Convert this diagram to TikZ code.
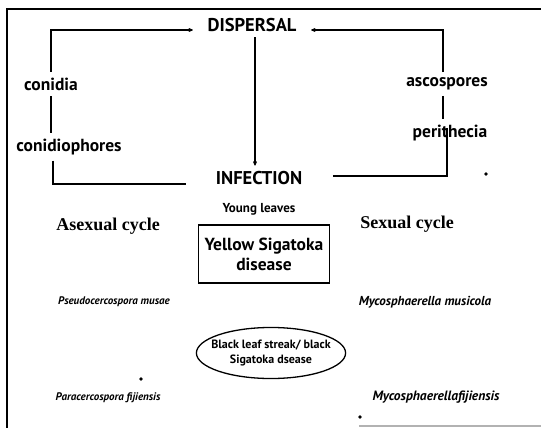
\documentclass[tikz,border=0pt]{standalone}
\usepackage{fontspec}
\setmainfont{PT Sans}
\newfontfamily\headserif{Liberation Serif}
\usepackage{tikz}
\usetikzlibrary{positioning, arrows.meta, shapes.geometric}

\begin{document}
\begin{tikzpicture}[
    x=1pt, y=-1pt, line width=1.5pt, >={Stealth[round, length=6pt, width=5pt]},
    node distance=31pt, on grid,
    stage/.style={font=\bfseries\fontsize{17.5}{20}\selectfont, inner xsep=2pt, inner ysep=5pt},
    cyclename/.style={font=\headserif\bfseries\fontsize{18}{20}\selectfont},
    species/.style={font=\bfseries\itshape\fontsize{11}{13}\selectfont},
    disease/.style={draw, align=center, line width=1.3pt, font=\bfseries\fontsize{17.5}{20}\selectfont},
    speck/.style={circle, fill, inner sep=1.3pt}
]
    \useasboundingbox (0,0) rectangle (541,428);
    \draw[line width=2.5pt] (7,428) -- (7,9) -- (541,9);
    \draw[gray!60, line width=1.5pt] (359,426) -- (541,426);

    \node[stage, font=\bfseries\fontsize{18.5}{20}\selectfont] (dispersal) at (252,25) {DISPERSAL};
    \node[stage, font=\bfseries\fontsize{18.5}{20}\selectfont] (infection) at (259,178) {INFECTION};
    \node[font=\bfseries\fontsize{13}{15}\selectfont] (leaves) [below=of infection] {Young leaves};
    \node[stage] (conidia) at (51,84) {conidia};
    \node[stage] (conidiophores) at (69,147) {conidiophores};
    \node[stage] (ascospores) at (447,84) {ascospores};
    \node[stage] (perithecia) at (450,133) {perithecia};

    \node[cyclename] (asexual) at (108,226) {Asexual cycle};
    \node[cyclename] (sexual) at (407,224) {Sexual cycle};
    \node[disease, minimum width=131pt, minimum height=58pt] (yellow) at (264,254) {Yellow Sigatoka\\disease};
    \node[species] (pmusae) at (114,302) {Pseudocercospora musae};
    \node[species, font=\bfseries\itshape\fontsize{13}{15}\selectfont] (mmusicola) at (425,302) {Mycosphaerella musicola};
    \node[disease, ellipse, inner xsep=-7pt, inner ysep=5pt,
          font=\bfseries\fontsize{12}{15}\selectfont] (black) at (271,353) {Black leaf streak/ black\\Sigatoka dsease};
    \node[species] (pfiji) at (108,398) {Paracercospora fijiensis};
    \node[species, font=\bfseries\itshape\fontsize{13.5}{15}\selectfont] (mfiji) at (436,397) {Mycosphaerellafijiensis};
    \node[speck] (specka) at (141,379) {};
    \node[speck] (speckb) at (360,417) {};
    \node[speck] (speckc) at (486,174) {};

    % asexual side
    \draw[->] (conidia.north) |- ([shift={(-12pt,-5pt)}]dispersal.west);
    \draw (conidia.south) -- (conidia.south |- conidiophores.north);
    \draw ([xshift=-16pt]conidiophores.south) |- ([shift={(-27pt,-6pt)}]infection.west);
    % sexual side
    \draw[->] ([xshift=-4pt]ascospores.north) |- ([shift={(12pt,-5pt)}]dispersal.east);
    \draw ([xshift=-4pt]ascospores.south) -- ([xshift=-4pt]ascospores.south |- perithecia.north);
    \draw ([shift={(28pt,2pt)}]infection.east) -| ([shift={(-3pt,5pt)}]perithecia.center);
    % infection
    \draw[->] ([xshift=3pt]dispersal.south) -- ([xshift=3pt]dispersal.south |- infection.north);
\end{tikzpicture}
\end{document}
